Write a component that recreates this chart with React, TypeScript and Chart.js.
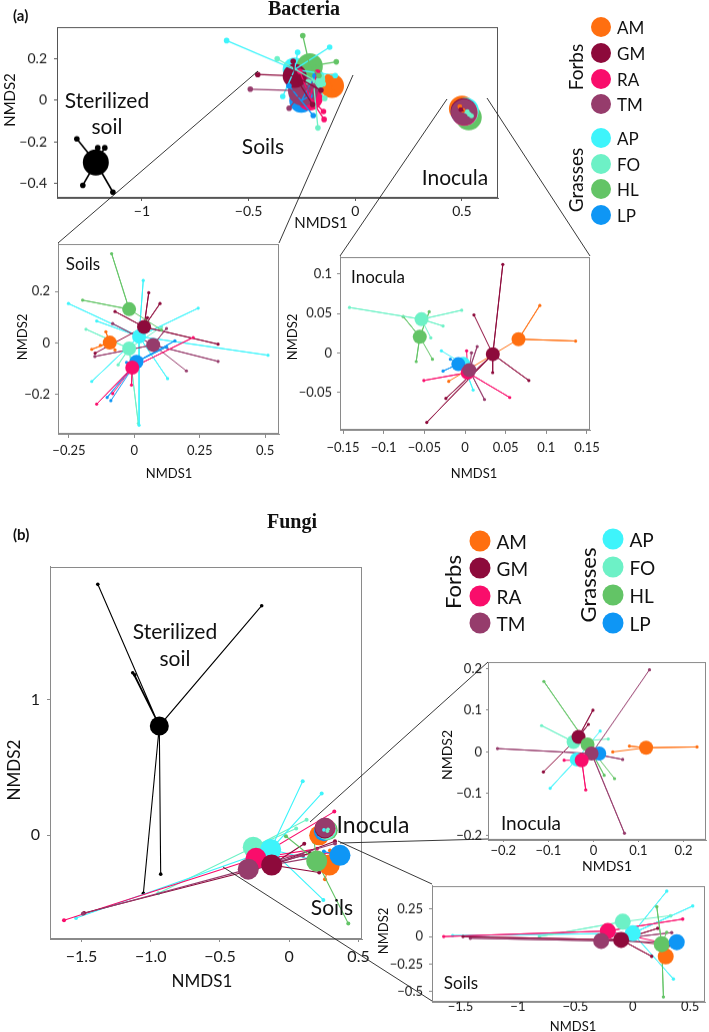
import React, { useEffect, useRef } from 'react';
import { Chart, registerables } from 'chart.js';
Chart.register(...registerables);

type P = [number, number];
const FONT = 'Lato, "Open Sans", "DejaVu Sans", sans-serif';
const SERIF = '"Liberation Serif", "DejaVu Serif", serif';
Chart.defaults.font.family = FONT;

// ---------- groups ----------
const GROUPS = ['AM', 'GM', 'RA', 'TM', 'AP', 'FO', 'HL', 'LP'];
const COLORS = ['#FF6F10', '#8D0A3B', '#F90D6B', '#963C6C', '#3EF4FB', '#6DF1C6', '#63C466', '#0E96F5'];
const BLACK = ['#000000'];

// ---------- tick values / labels ----------
const bacMainXTicks = [-1, -0.5, 0, 0.5];
const bacMainXLabels = ['−1', '−0.5', '0', '0.5'];
const bacMainYTicks = [-0.4, -0.2, 0, 0.2];
const bacMainYLabels = ['−0.4', '−0.2', '0', '0.2'];
const bacSoilXTicks = [-0.25, 0, 0.25, 0.5];
const bacSoilXLabels = ['−0.25', '0', '0.25', '0.5'];
const bacSoilYTicks = [-0.2, 0, 0.2];
const bacSoilYLabels = ['−0.2', '0', '0.2'];
const bacInocXTicks = [-0.15, -0.1, -0.05, 0, 0.05, 0.1, 0.15];
const bacInocXLabels = ['−0.15', '−0.1', '−0.05', '0', '0.05', '0.1', '0.15'];
const bacInocYTicks = [-0.05, 0, 0.05, 0.1];
const bacInocYLabels = ['−0.05', '0', '0.05', '0.1'];
const funMainXTicks = [-1.5, -1, -0.5, 0, 0.5];
const funMainXLabels = ['−1.5', '−1.0', '−0.5', '0', '0.5'];
const funMainYTicks = [0, 1];
const funMainYLabels = ['0', '1'];
const funInocXTicks = [-0.2, -0.1, 0, 0.1, 0.2];
const funInocXLabels = ['−0.2', '−0.1', '0', '0.1', '0.2'];
const funInocYTicks = [-0.2, -0.1, 0, 0.1, 0.2];
const funInocYLabels = ['−0.2', '−0.1', '0', '0.1', '0.2'];
const funSoilXTicks = [-1.5, -1, -0.5, 0, 0.5];
const funSoilXLabels = ['−1.5', '−1', '−0.5', '0', '0.5'];
const funSoilYTicks = [-0.5, -0.25, 0, 0.25];
const funSoilYLabels = ['−0.5', '−0.25', '0', '0.25'];

// ---------- (a) Bacteria, main ordination ----------
// centroids in GROUPS order, spokes = replicate samples of each group
const bacMainSoilC: P[] = [[-0.109, 0.070], [-0.284, 0.118], [-0.213, 0.014], [-0.245, 0.046], [-0.284, 0.149], [-0.197, 0.100], [-0.213, 0.165], [-0.253, -0.002]];
const bacMainSoilS: P[][] = [
  [[-0.128, 0.114], [-0.100, 0.040]],
  [[-0.457, 0.125], [-0.291, 0.189], [-0.161, 0.049], [-0.200, -0.020]],
  [[-0.149, -0.054], [-0.146, -0.092], [-0.177, 0.137], [-0.260, 0.140]],
  [[-0.492, 0.054], [-0.310, -0.038], [-0.200, 0.070]],
  [[-0.603, 0.289], [-0.120, 0.257], [-0.094, 0.120], [-0.340, 0.019], [-0.270, 0.232]],
  [[-0.366, 0.201], [-0.175, -0.133], [-0.143, 0.010], [-0.220, 0.090], [-0.150, 0.080]],
  [[-0.246, 0.313], [-0.089, 0.186], [-0.170, 0.120]],
  [[-0.197, -0.073], [-0.189, 0.118], [-0.311, 0.070], [-0.213, 0.022]],
];
const bacMainInocC: P[] = [[0.500, -0.040], [0.508, -0.052], [0.512, -0.060], [0.510, -0.057], [0.518, -0.050], [0.515, -0.060], [0.532, -0.082], [0.508, -0.055]];
const bacMainInocS: P[][] = [
  [[0.490, -0.030], [0.505, -0.048]],
  [[0.495, -0.045]],
  [], [], [],
  [[0.525, -0.055], [0.535, -0.068], [0.545, -0.075]],
  [], [],
];
const bacSterC: P[] = [[-1.216, -0.300]];
const bacSterS: P[][] = [[[-1.305, -0.186], [-1.277, -0.410], [-1.136, -0.443], [-1.207, -0.229], [-1.174, -0.229]]];

// ---------- (a) Bacteria, soils inset ----------
const bacSoilC: P[] = [[-0.094, 0.001], [0.037, 0.062], [-0.008, -0.096], [0.072, -0.008], [0.018, 0.025], [-0.020, -0.022], [-0.020, 0.131], [0.008, -0.074]];
const bacSoilS: P[][] = [
  [[-0.163, -0.025], [-0.109, 0.043], [-0.074, -0.027], [-0.130, -0.010]],
  [[0.055, 0.195], [0.098, 0.153], [-0.074, 0.122], [0.320, -0.005], [0.050, 0.098], [-0.150, -0.040]],
  [[0.225, 0.021], [-0.144, -0.238], [-0.011, -0.164], [-0.083, -0.197]],
  [[0.320, -0.072], [0.123, 0.056], [-0.083, 0.075], [-0.151, -0.053], [0.199, -0.109]],
  [[-0.252, 0.153], [0.034, 0.243], [0.244, 0.135], [0.511, -0.048], [-0.163, -0.150], [0.127, -0.139], [-0.144, 0.085], [0.018, -0.320]],
  [[-0.185, 0.053], [0.015, -0.313], [-0.062, -0.085], [0.104, 0.062]],
  [[-0.087, 0.347], [-0.198, 0.166], [0.104, 0.050]],
  [[0.155, 0.008], [-0.104, -0.212], [-0.030, -0.076], [0.123, -0.016], [-0.090, -0.225]],
];

// ---------- (a) Bacteria, inocula inset ----------
const bacInocC: P[] = [[0.0658, 0.0173], [0.0342, -0.0017], [0.0033, -0.0250], [0.0053, -0.0219], [-0.0020, -0.0140], [-0.0535, 0.0426], [-0.0556, 0.0203], [-0.0082, -0.0143]];
const bacInocS: P[][] = [
  [[0.092, 0.060], [0.136, 0.015], [-0.020, -0.036]],
  [[0.0465, 0.112], [0.034, -0.025], [-0.0235, -0.0577], [0.0785, -0.035], [-0.047, -0.088], [0.011, 0.048]],
  [[-0.0506, -0.035], [0.055, -0.0565], [0.002, 0.0025]],
  [[0.015, 0.008], [0.024, -0.059], [0.008, 0.000]],
  [[0.010, -0.047], [-0.029, 0.0025]],
  [[-0.142, 0.0574], [-0.004, 0.054], [-0.027, 0.034], [-0.042, 0.019]],
  [[-0.076, 0.046], [-0.044, 0.052], [-0.060, -0.011], [-0.040, -0.008]],
  [[-0.027, -0.023], [-0.018, -0.008]],
];

// ---------- (b) Fungi, main ordination ----------
const funMainSoilC: P[] = [[0.289, -0.219], [-0.127, -0.219], [-0.240, -0.170], [-0.296, -0.250], [-0.134, -0.105], [-0.260, -0.088], [0.198, -0.190], [0.366, -0.148]];
const funMainSoilS: P[][] = [
  [[0.258, -0.324], [0.294, -0.112], [0.320, -0.250]],
  [[-1.481, -0.574], [0.108, -0.063], [0.216, -0.275], [0.330, -0.044], [0.150, -0.130]],
  [[-1.626, -0.628], [0.325, 0.175], [0.300, -0.130], [0.200, -0.100]],
  [[-1.490, -0.580], [0.330, -0.060], [0.250, -0.150], [0.100, -0.150]],
  [[-1.539, -0.611], [0.097, 0.399], [0.234, 0.309], [0.246, -0.477], [0.250, -0.200]],
  [[-0.945, -0.428], [0.125, 0.115], [0.050, 0.050]],
  [[-0.024, -0.007], [0.426, -0.652], [0.180, -0.050]],
  [[0.300, -0.160], [0.250, -0.120]],
];
const funMainInocC: P[] = [[0.216, 0.000], [0.255, 0.050], [0.262, 0.052], [0.258, 0.058], [0.262, 0.045], [0.268, 0.040], [0.278, 0.038], [0.250, 0.030]];
const funMainInocS: P[][] = [[], [], [], [], [[0.250, 0.040]], [[0.280, 0.045], [0.275, 0.030]], [], []];
const funSterC: P[] = [[-0.938, 0.808]];
const funSterS: P[][] = [[[-1.382, 1.854], [-0.199, 1.696], [-1.130, 1.200], [-1.115, 1.185], [-1.053, -0.428], [-0.928, -0.287]]];

// ---------- (b) Fungi, inocula inset ----------
const funInocC: P[] = [[0.117, 0.010], [-0.033, 0.036], [-0.026, -0.020], [-0.004, -0.004], [-0.037, -0.018], [-0.044, 0.024], [-0.013, 0.018], [0.013, -0.004]];
const funInocS: P[][] = [
  [[0.230, 0.012], [0.080, 0.014], [0.043, 0.000]],
  [[-0.001, 0.100], [-0.011, 0.066], [-0.111, -0.048]],
  [[-0.017, -0.091], [-0.065, -0.020]],
  [[-0.213, 0.008], [0.065, -0.018], [0.069, -0.195], [0.1245, 0.197]],
  [[-0.096, -0.087], [0.015, 0.050]],
  [[-0.115, 0.063], [0.033, 0.031]],
  [[-0.110, 0.169], [0.024, -0.056], [0.047, -0.064]],
  [[0.020, -0.010]],
];

// ---------- (b) Fungi, soils inset ----------
const funSoilC: P[] = [[0.287, -0.180], [-0.101, -0.030], [-0.217, 0.051], [-0.275, -0.039], [0.000, 0.030], [-0.087, 0.135], [0.252, -0.069], [0.383, -0.051]];
const funSoilS: P[][] = [
  [[0.300, -0.070]],
  [[-1.478, 0.000], [0.165, -0.180], [0.217, 0.075], [0.043, 0.054], [0.320, -0.080]],
  [[-1.646, 0.000], [0.435, 0.159], [0.280, -0.060]],
  [[-1.414, -0.015], [0.339, 0.036], [0.250, -0.050]],
  [[-1.568, 0.009], [0.296, 0.412], [0.522, 0.277], [0.354, -0.385], [0.330, 0.187]],
  [[-0.814, 0.000], [0.330, 0.190]],
  [[0.209, 0.271], [0.267, -0.548], [0.296, 0.039]],
  [[0.350, -0.030]],
];

// ---------- chart machinery ----------
interface Cluster { c: P[]; s: P[][]; colors: string[]; r: number | number[]; satR: number; lw: number; order: number[]; spokesOnTop?: boolean }
interface Spec {
  box: [number, number, number, number];
  xr: [number, number]; yr: [number, number];
  xt: number[]; xl: string[]; yt: number[]; yl: string[];
  font: number; xTick: number; xPad: number; yTick: number; yPad: number;
  boxColor: string; clusters: Cluster[];
}

const PAD = { left: 4, top: 12, right: 26, bottom: 4 };
const Y_W = 50;

const framePlugin = {
  id: 'frame',
  afterDraw(chart: any, _args: any, opts: any) {
    const { ctx, chartArea: ca } = chart;
    ctx.save();
    ctx.strokeStyle = opts.color || '#888';
    ctx.lineWidth = 1;
    ctx.strokeRect(Math.round(ca.left) + 0.5, Math.round(ca.top) + 0.5, Math.round(ca.right - ca.left) - 1, Math.round(ca.bottom - ca.top) - 1);
    ctx.restore();
  },
};

function axis(min: number, max: number, ticks: number[], labels: string[], tl: number, pad: number, font: number, color: string, fit: (s: any) => void) {
  return {
    type: 'linear', min, max,
    afterBuildTicks: (s: any) => { s.ticks = ticks.map((v) => ({ value: v })); },
    afterFit: fit,
    ticks: { callback: (_v: any, i: number) => labels[i] ?? '', font: { family: FONT, size: font }, color: '#1a1a1a', padding: pad, maxRotation: 0, minRotation: 0, autoSkip: false },
    grid: { display: true, drawOnChartArea: false, drawTicks: tl > 0, tickLength: tl, color, lineWidth: 1 },
    border: { display: true, color, width: 1 },
  };
}

function Plot({ spec }: { spec: Spec }) {
  const ref = useRef<HTMLCanvasElement>(null);
  const [l, t, r, b] = spec.box;
  const xH = spec.xTick + spec.xPad + spec.font * 1.2 + 4;
  useEffect(() => {
    const datasets: any[] = [];
    spec.clusters.forEach((cl) => {
      const spokes = cl.order.filter((i) => cl.s[i] && cl.s[i].length).map((i) => ({
        data: cl.s[i].flatMap((p) => [{ x: cl.c[i][0], y: cl.c[i][1] }, { x: p[0], y: p[1] }]),
        showLine: true, tension: 0,
        borderColor: cl.colors[i], backgroundColor: cl.colors[i], borderWidth: cl.lw,
        pointRadius: (ctx: any) => (ctx.dataIndex % 2 ? cl.satR : 0),
        pointHoverRadius: 0,
        pointBackgroundColor: cl.colors[i], pointBorderWidth: 0,
      }));
      const cent = {
        data: cl.order.map((i) => ({ x: cl.c[i][0], y: cl.c[i][1] })),
        showLine: false,
        pointRadius: cl.order.map((i) => (Array.isArray(cl.r) ? cl.r[i] : cl.r)),
        pointHoverRadius: 0,
        pointBackgroundColor: cl.order.map((i) => cl.colors[i]),
        backgroundColor: cl.order.map((i) => cl.colors[i]),
        pointBorderWidth: 0, borderWidth: 0,
      };
      if (cl.spokesOnTop) datasets.push(cent, ...spokes); else datasets.push(...spokes, cent);
    });
    datasets.forEach((d, k) => { d.order = -k; });
    const chart = new Chart(ref.current as HTMLCanvasElement, {
      type: 'scatter',
      data: { datasets },
      options: {
        responsive: true, maintainAspectRatio: false, animation: false, events: [],
        layout: { padding: PAD },
        plugins: { legend: { display: false }, tooltip: { enabled: false }, frame: { color: spec.boxColor } } as any,
        scales: {
          x: axis(spec.xr[0], spec.xr[1], spec.xt, spec.xl, spec.xTick, spec.xPad, spec.font, spec.boxColor, (s: any) => { s.height = xH; }) as any,
          y: axis(spec.yr[0], spec.yr[1], spec.yt, spec.yl, spec.yTick, spec.yPad, spec.font, spec.boxColor, (s: any) => { s.width = Y_W; }) as any,
        },
      },
      plugins: [framePlugin],
    });
    return () => chart.destroy();
  }, []);
  const style: React.CSSProperties = {
    position: 'absolute',
    left: l - Y_W - PAD.left,
    top: t - PAD.top,
    width: r - l + Y_W + PAD.left + PAD.right,
    height: b - t + xH + PAD.top + PAD.bottom,
  };
  return <div style={style}><canvas ref={ref} /></div>;
}

const PLOTS: Spec[] = [
  {
    box: [57, 24, 498, 197], xr: [-1.398, 0.669], yr: [-0.471, 0.352],
    xt: bacMainXTicks, xl: bacMainXLabels, yt: bacMainYTicks, yl: bacMainYLabels,
    font: 14, xTick: 3, xPad: 2, yTick: 3, yPad: 7, boxColor: '#555555',
    clusters: [
      { c: bacSterC, s: bacSterS, colors: BLACK, r: 13, satR: 2.8, lw: 1.6, order: [0] },
      { c: bacMainSoilC, s: bacMainSoilS, colors: COLORS, r: [12, 12, 13, 15, 12, 12, 13, 12], satR: 2.8, lw: 1.3, order: [4, 7, 2, 0, 5, 6, 3, 1], spokesOnTop: true },
      { c: bacMainInocC, s: bacMainInocS, colors: COLORS, r: 13, satR: 2.4, lw: 1.2, order: [6, 0, 4, 7, 5, 1, 2, 3], spokesOnTop: true },
    ],
  },
  {
    box: [58, 243, 279, 433], xr: [-0.292, 0.553], yr: [-0.354, 0.385],
    xt: bacSoilXTicks, xl: bacSoilXLabels, yt: bacSoilYTicks, yl: bacSoilYLabels,
    font: 13, xTick: 4, xPad: 5, yTick: 3, yPad: 5, boxColor: '#8a8a8a',
    clusters: [{ c: bacSoilC, s: bacSoilS, colors: COLORS, r: 7, satR: 1.6, lw: 1, order: [0, 5, 4, 1, 3, 6, 7, 2] }],
  },
  {
    box: [340, 256, 590, 429], xr: [-0.1537, 0.1537], yr: [-0.0975, 0.1215],
    xt: bacInocXTicks, xl: bacInocXLabels, yt: bacInocYTicks, yl: bacInocYLabels,
    font: 13, xTick: 4, xPad: 6, yTick: 3, yPad: 5, boxColor: '#8a8a8a',
    clusters: [{ c: bacInocC, s: bacInocS, colors: COLORS, r: 7, satR: 1.6, lw: 1, order: [6, 5, 4, 7, 2, 3, 1, 0] }],
  },
  {
    box: [50, 562, 362, 939], xr: [-1.727, 0.525], yr: [-0.766, 1.985],
    xt: funMainXTicks, xl: funMainXLabels, yt: funMainYTicks, yl: funMainYLabels,
    font: 16, xTick: 3, xPad: 5, yTick: 3, yPad: 7, boxColor: '#8a8a8a',
    clusters: [
      { c: funSterC, s: funSterS, colors: BLACK, r: 9.5, satR: 1.8, lw: 1.1, order: [0] },
      { c: funMainSoilC, s: funMainSoilS, colors: COLORS, r: 10.5, satR: 2, lw: 1.1, order: [5, 4, 2, 1, 3, 0, 6, 7] },
      { c: funMainInocC, s: funMainInocS, colors: COLORS, r: 10, satR: 1.8, lw: 1, order: [0, 7, 6, 4, 5, 2, 1, 3], spokesOnTop: true },
    ],
  },
  {
    box: [488, 662, 706, 839], xr: [-0.234, 0.25], yr: [-0.211, 0.2154],
    xt: funInocXTicks, xl: funInocXLabels, yt: funInocYTicks, yl: funInocYLabels,
    font: 13, xTick: 2, xPad: 1, yTick: 2, yPad: 4, boxColor: '#8a8a8a',
    clusters: [{ c: funInocC, s: funInocS, colors: COLORS, r: 7, satR: 1.6, lw: 1, order: [4, 5, 1, 6, 7, 3, 2, 0] }],
  },
  {
    box: [432, 884, 705, 1001], xr: [-1.748, 0.629], yr: [-0.593, 0.46],
    xt: funSoilXTicks, xl: funSoilXLabels, yt: funSoilYTicks, yl: funSoilYLabels,
    font: 13, xTick: 0, xPad: -3, yTick: 3, yPad: 6, boxColor: '#8a8a8a',
    clusters: [{ c: funSoilC, s: funSoilS, colors: COLORS, r: 8, satR: 1.7, lw: 1, order: [4, 5, 2, 3, 1, 0, 6, 7] }],
  },
];

// ---------- overlay text helpers ----------
function Txt({ x, y, s, children, rot, bold, serif, anchor }: any) {
  return (
    <text
      x={rot ? 0 : x} y={rot ? 0 : y}
      transform={rot ? `translate(${x},${y}) rotate(-90)` : undefined}
      fontSize={s} fontFamily={serif ? SERIF : FONT} fontWeight={bold ? 700 : 400}
      textAnchor={anchor || 'middle'} dominantBaseline="central" fill="#111"
    >{children}</text>
  );
}

function Legend({ x, ys, idx, s, r }: { x: number; ys: number[]; idx: number[]; s: number; r: number }) {
  return (
    <g>
      {idx.map((g, k) => (
        <g key={g}>
          <circle cx={x} cy={ys[k]} r={r} fill={COLORS[g]} />
          <Txt x={x + r + 6} y={ys[k]} s={s} anchor="start">{GROUPS[g]}</Txt>
        </g>
      ))}
    </g>
  );
}

const CONNECTORS: number[][] = [
  [258, 71, 58, 243], [353, 75, 279, 243], [447, 99, 340, 256], [487, 98, 590, 256],
  [310, 822, 488, 662], [340, 843, 488, 839], [338, 841, 432, 884], [223, 867, 432, 1001],
];

export default function App() {
  return (
    <div style={{ position: 'absolute', left: 0, top: 0, width: 709, height: 1032, background: '#fff', overflow: 'hidden' }}>
      {PLOTS.map((p, i) => <Plot key={i} spec={p} />)}
      <svg width={709} height={1032} style={{ position: 'absolute', left: 0, top: 0, pointerEvents: 'none' }}>
        {CONNECTORS.map((c, i) => <line key={i} x1={c[0]} y1={c[1]} x2={c[2]} y2={c[3]} stroke="#222" strokeWidth={0.9} />)}
        {/* panel (a) */}
        <Txt x={13} y={15} s={15} bold anchor="start">(a)</Txt>
        <Txt x={304} y={8} s={20} bold serif>Bacteria</Txt>
        <Txt x={9} y={100} s={15} rot>NMDS2</Txt>
        <Txt x={321} y={222} s={15}>NMDS1</Txt>
        <Txt x={107} y={99} s={21}>Sterilized</Txt>
        <Txt x={107} y={125} s={21}>soil</Txt>
        <Txt x={263} y={145} s={21}>Soils</Txt>
        <Txt x={455} y={176} s={21}>Inocula</Txt>
        <Txt x={22} y={337} s={13} rot>NMDS2</Txt>
        <Txt x={169} y={473} s={13}>NMDS1</Txt>
        <Txt x={83} y={263} s={17}>Soils</Txt>
        <Txt x={292} y={337} s={13} rot>NMDS2</Txt>
        <Txt x={474} y={473} s={13}>NMDS1</Txt>
        <Txt x={378} y={276} s={17}>Inocula</Txt>
        <Txt x={575} y={67} s={19} rot>Forbs</Txt>
        <Txt x={575} y={180} s={19} rot>Grasses</Txt>
        <Legend x={601} ys={[27, 53, 79, 104]} idx={[0, 1, 2, 3]} s={17} r={10} />
        <Legend x={601} ys={[138, 164, 189, 215]} idx={[4, 5, 6, 7]} s={17} r={10} />
        {/* panel (b) */}
        <Txt x={13} y={534} s={15} bold anchor="start">(b)</Txt>
        <Txt x={292} y={521} s={20} bold serif>Fungi</Txt>
        <Txt x={13} y={770} s={17} rot>NMDS2</Txt>
        <Txt x={202} y={980} s={17}>NMDS1</Txt>
        <Txt x={175} y={630} s={21}>Sterilized</Txt>
        <Txt x={175} y={657} s={21}>soil</Txt>
        <Txt x={373} y={824} s={23}>Inocula</Txt>
        <Txt x={332} y={906} s={21}>Soils</Txt>
        <Txt x={446} y={755} s={14} rot>NMDS2</Txt>
        <Txt x={607} y={865} s={14}>NMDS1</Txt>
        <Txt x={531} y={822} s={19}>Inocula</Txt>
        <Txt x={383} y={931} s={13} rot>NMDS2</Txt>
        <Txt x={573} y={1026} s={13}>NMDS1</Txt>
        <Txt x={461} y={982} s={17}>Soils</Txt>
        <Txt x={452} y={582} s={22} rot>Forbs</Txt>
        <Txt x={587} y={585} s={22} rot>Grasses</Txt>
        <Legend x={480} ys={[541, 568, 596, 623]} idx={[0, 1, 2, 3]} s={19} r={10.5} />
        <Legend x={613} ys={[539, 567, 595, 623]} idx={[4, 5, 6, 7]} s={19} r={10.5} />
      </svg>
    </div>
  );
}
